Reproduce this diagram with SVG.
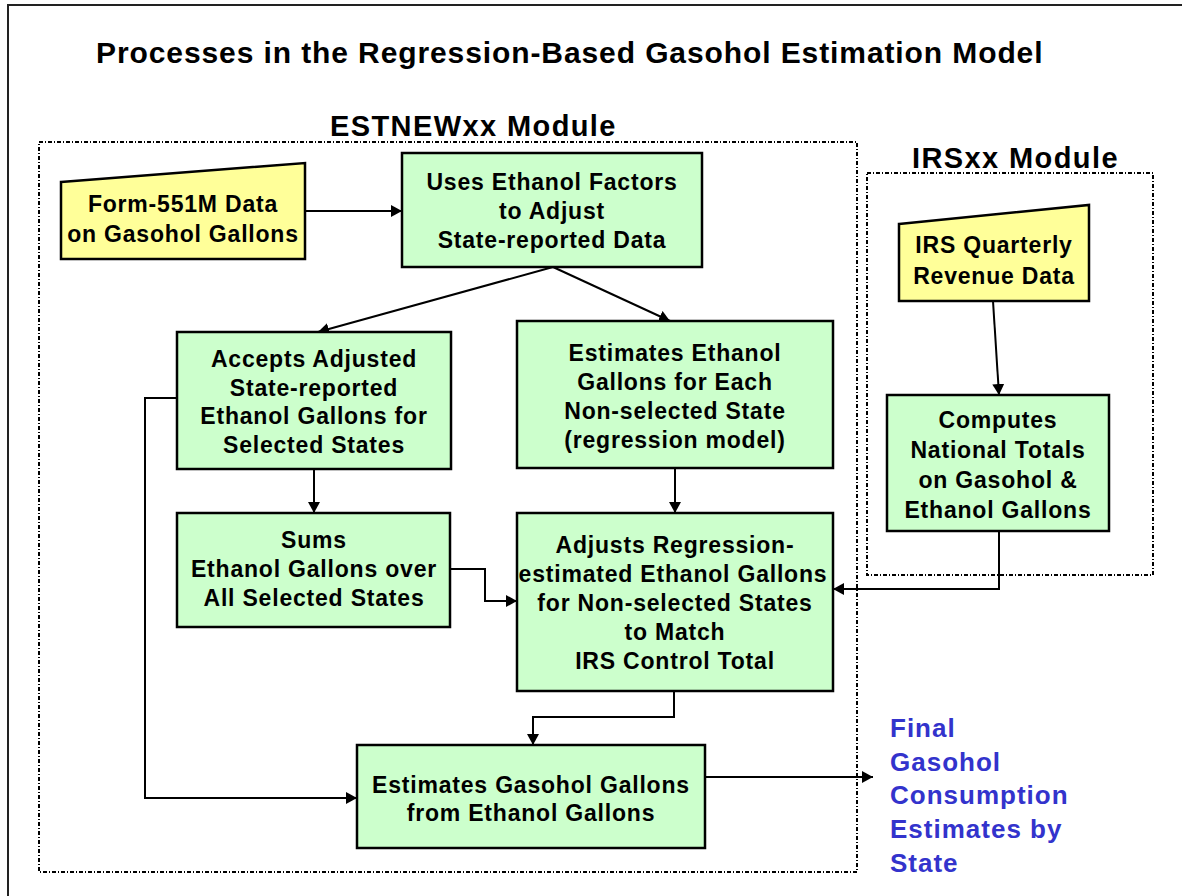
<svg xmlns="http://www.w3.org/2000/svg" width="1182" height="896" viewBox="0 0 1182 896">
<defs>
<style>
.frame{fill:none;stroke:#222;stroke-width:2}
.module{fill:none;stroke:#000;stroke-width:2;stroke-dasharray:4 2 1 2}
.proc{fill:#CCFFCC;stroke:#000;stroke-width:2.5}
.data{fill:#FFFF99;stroke:#000;stroke-width:2.5}
.t{font-family:"Liberation Sans",Arial,sans-serif;font-weight:bold;font-size:23px;letter-spacing:0.8px;fill:#000;text-anchor:middle}
.h{font-family:"Liberation Sans",Arial,sans-serif;font-weight:bold;fill:#000}
.out{font-family:"Liberation Sans",Arial,sans-serif;font-weight:bold;font-size:26px;letter-spacing:1px;fill:#3333CC}
.c{fill:none;stroke:#000;stroke-width:2}
</style>
<marker id="ah" markerUnits="userSpaceOnUse" markerWidth="12" markerHeight="12" refX="11" refY="6" orient="auto">
<path d="M0,0 L11,6 L0,12 z" fill="#000"/>
</marker>
</defs>
<rect x="0" y="0" width="1182" height="896" fill="#fff"/>
<rect class="frame" x="8" y="5" width="1200" height="1000"/>
<text class="h" x="96" y="63" font-size="30" letter-spacing="0.9">Processes in the Regression-Based Gasohol Estimation Model</text>

<g id="estnew-module">
<rect class="module" x="39" y="142" width="818" height="730"/>
<text class="h" x="330" y="136" font-size="29" letter-spacing="1.4">ESTNEWxx Module</text>
</g>
<g id="irs-module">
<rect class="module" x="867" y="173" width="286" height="402"/>
<text class="h" x="912" y="168" font-size="29" letter-spacing="1.4">IRSxx Module</text>
</g>

<g id="connectors">
<line class="c" x1="305" y1="211" x2="402" y2="211" marker-end="url(#ah)"/>
<line class="c" x1="553" y1="267" x2="318" y2="332" marker-end="url(#ah)"/>
<line class="c" x1="553" y1="267" x2="670" y2="321" marker-end="url(#ah)"/>
<line class="c" x1="314" y1="469" x2="314" y2="513" marker-end="url(#ah)"/>
<line class="c" x1="675" y1="468" x2="675" y2="513" marker-end="url(#ah)"/>
<polyline class="c" points="450,569 485,569 485,601 517,601" marker-end="url(#ah)"/>
<line class="c" x1="993" y1="301" x2="999" y2="395" marker-end="url(#ah)"/>
<polyline class="c" points="999,531 999,589 833,589" marker-end="url(#ah)"/>
<polyline class="c" points="674,691 674,717 533,717 533,745" marker-end="url(#ah)"/>
<polyline class="c" points="177,398 145,398 145,798 357,798" marker-end="url(#ah)"/>
<line class="c" x1="705" y1="777" x2="873" y2="777" marker-end="url(#ah)"/>
</g>

<g id="form551m">
<polygon class="data" points="61,182 305,163 305,259 61,259"/>
<text class="t" x="183" y="212">Form-551M Data</text>
<text class="t" x="183" y="242">on Gasohol Gallons</text>
</g>

<g id="uses-factors">
<rect class="proc" x="402" y="153" width="300" height="114"/>
<text class="t" x="552" y="190">Uses Ethanol Factors</text>
<text class="t" x="552" y="219">to Adjust</text>
<text class="t" x="552" y="248">State-reported Data</text>
</g>

<g id="accepts">
<rect class="proc" x="177" y="332" width="274" height="137"/>
<text class="t" x="314" y="367">Accepts Adjusted</text>
<text class="t" x="314" y="396">State-reported</text>
<text class="t" x="314" y="424">Ethanol Gallons for</text>
<text class="t" x="314" y="453">Selected States</text>
</g>

<g id="estimates-ethanol">
<rect class="proc" x="517" y="321" width="316" height="147"/>
<text class="t" x="675" y="361">Estimates Ethanol</text>
<text class="t" x="675" y="390">Gallons for Each</text>
<text class="t" x="675" y="419">Non-selected State</text>
<text class="t" x="675" y="448">(regression model)</text>
</g>

<g id="sums">
<rect class="proc" x="177" y="513" width="273" height="114"/>
<text class="t" x="314" y="548">Sums</text>
<text class="t" x="314" y="577">Ethanol Gallons over</text>
<text class="t" x="314" y="606">All Selected States</text>
</g>

<g id="adjusts">
<rect class="proc" x="517" y="513" width="316" height="178"/>
<text class="t" x="675" y="553">Adjusts Regression-</text>
<text class="t" x="673" y="582">estimated Ethanol Gallons</text>
<text class="t" x="675" y="611">for Non-selected States</text>
<text class="t" x="675" y="640">to Match</text>
<text class="t" x="675" y="669">IRS Control Total</text>
</g>

<g id="irs-data">
<polygon class="data" points="899,224 1089,205 1089,301 899,301"/>
<text class="t" x="994" y="253">IRS Quarterly</text>
<text class="t" x="994" y="284">Revenue Data</text>
</g>

<g id="computes">
<rect class="proc" x="887" y="395" width="222" height="136"/>
<text class="t" x="998" y="428">Computes</text>
<text class="t" x="998" y="458">National Totals</text>
<text class="t" x="998" y="488">on Gasohol &amp;</text>
<text class="t" x="998" y="518">Ethanol Gallons</text>
</g>

<g id="estimates-gasohol">
<rect class="proc" x="357" y="745" width="348" height="103"/>
<text class="t" x="531" y="793">Estimates Gasohol Gallons</text>
<text class="t" x="531" y="821">from Ethanol Gallons</text>
</g>

<g id="final-output">
<text class="out" x="890" y="737">Final</text>
<text class="out" x="890" y="771">Gasohol</text>
<text class="out" x="890" y="804">Consumption</text>
<text class="out" x="890" y="838">Estimates by</text>
<text class="out" x="890" y="872">State</text>
</g>
</svg>
